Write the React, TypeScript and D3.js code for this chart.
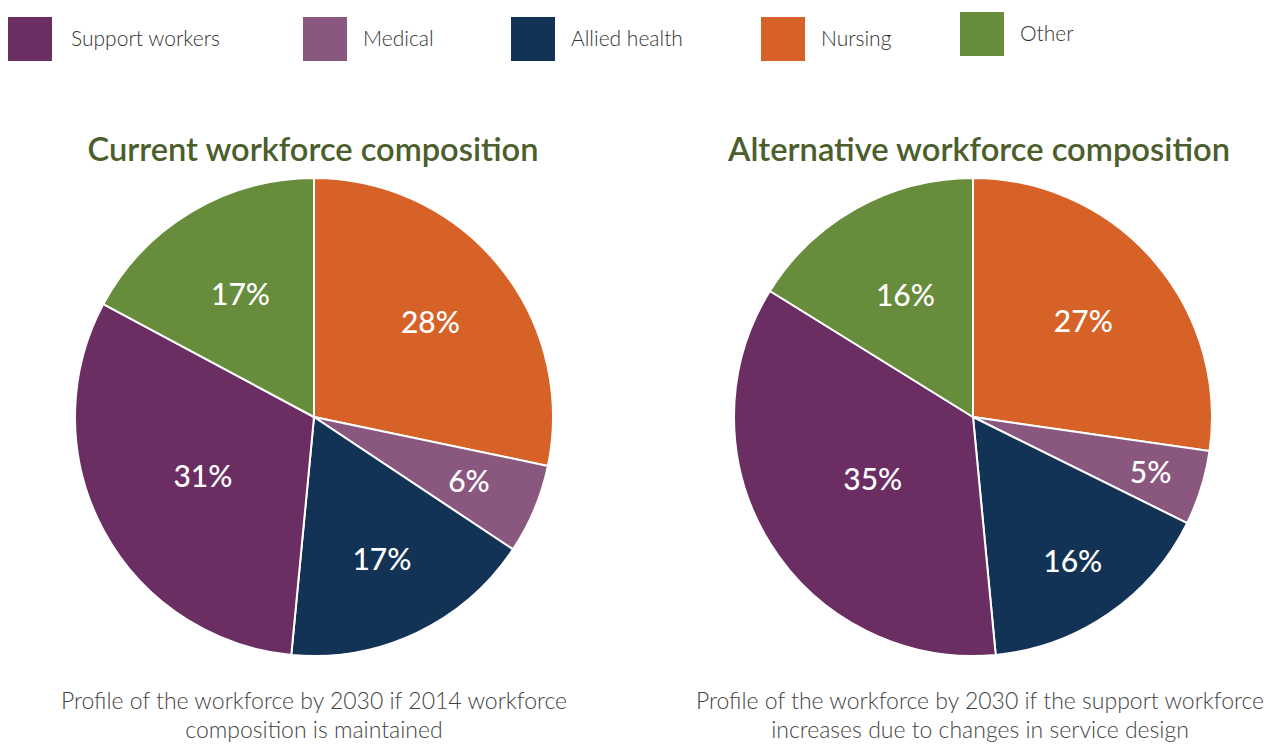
import { useRef, useEffect } from 'react'
import * as d3 from 'd3'

const CATEGORIES = ['Nursing', 'Medical', 'Allied health', 'Support workers', 'Other']
const CURRENT = [28, 6, 17, 31, 17]
const ALTERNATIVE = [27, 5, 16, 35, 16]
const LEGEND_ORDER = ['Support workers', 'Medical', 'Allied health', 'Nursing', 'Other']
const TITLES = ['Current workforce composition', 'Alternative workforce composition']
const CAPTIONS = [
  ['Profile of the workforce by 2030 if 2014 workforce', 'composition is maintained'],
  ['Profile of the workforce by 2030 if the support workforce', 'increases due to changes in service design'],
]

const COLORS: Record<string, string> = {
  'Support workers': '#6a2e63',
  Medical: '#8a587f',
  'Allied health': '#133356',
  Nursing: '#d66228',
  Other: '#678c3b',
}

const WIDTH = 1266
const HEIGHT = 744
const RADIUS = 239
const FONT = 'Lato, "Open Sans", sans-serif'

// label distance from centre, per slice, tuned by eye
const LABEL_R = [
  [150, 168, 158, 126, 143],
  [146, 186, 176, 118, 139],
]

export default function App() {
  const svgRef = useRef<SVGSVGElement>(null)

  useEffect(() => {
    if (!svgRef.current) return
    const svg = d3.select(svgRef.current)
    svg.selectAll('*').remove()

    // legend, positions follow the original layout
    const legendPos: Record<string, [number, number]> = {
      'Support workers': [8, 17],
      Medical: [303, 17],
      'Allied health': [511, 17],
      Nursing: [761, 17],
      Other: [960, 12],
    }
    const lg = svg.append('g')
    LEGEND_ORDER.forEach((name) => {
      const [x, y] = legendPos[name]
      lg.append('rect')
        .attr('x', x)
        .attr('y', y)
        .attr('width', 44)
        .attr('height', 44)
        .attr('fill', COLORS[name])
      lg.append('text')
        .attr('x', x + (name === 'Support workers' ? 63 : 60))
        .attr('y', y + 29)
        .attr('font-family', FONT)
        .attr('font-weight', 300)
        .attr('font-size', 21)
        .attr('fill', '#333')
        .text(name)
    })

    const pie = d3
      .pie<number>()
      .sort(null)
      .value((d) => d)
    const arc = d3.arc<d3.PieArcDatum<number>>().innerRadius(0).outerRadius(RADIUS)

    const centers = [314, 973]
    const titleX = [313, 979]
    const titleW = [451, 502]
    ;[CURRENT, ALTERNATIVE].forEach((values, ci) => {
      const cx = centers[ci]
      const cy = 417

      svg.append('text')
        .attr('x', titleX[ci])
        .attr('y', 161)
        .attr('text-anchor', 'middle')
        .attr('font-family', FONT)
        .attr('font-weight', 600)
        .attr('font-size', 33)
        .attr('textLength', titleW[ci])
        .attr('lengthAdjust', 'spacingAndGlyphs')
        .attr('fill', '#4b5e2c')
        .text(TITLES[ci])

      const g = svg.append('g').attr('transform', `translate(${cx},${cy})`)
      const arcs = pie(values)

      g.selectAll('path')
        .data(arcs)
        .enter()
        .append('path')
        .attr('d', arc)
        .attr('fill', (_, i) => COLORS[CATEGORIES[i]])
        .attr('stroke', '#fff')
        .attr('stroke-width', 2)

      g.selectAll('text.lbl')
        .data(arcs)
        .enter()
        .append('text')
        .attr('class', 'lbl')
        .attr('transform', (d, i) => {
          const r = LABEL_R[ci][i]
          const c = d3.arc<d3.PieArcDatum<number>>().innerRadius(r).outerRadius(r).centroid(d)
          return `translate(${c[0]},${c[1]})`
        })
        .attr('text-anchor', 'middle')
        .attr('dy', '0.35em')
        .attr('font-family', FONT)
        .attr('font-weight', 500)
        .attr('font-size', 30)
        .attr('fill', '#fff')
        .text((d) => `${d.data}%`)

      CAPTIONS[ci].forEach((line, li) => {
        svg.append('text')
          .attr('x', cx + (ci === 1 ? 7 : 0))
          .attr('y', 709 + li * 29)
          .attr('text-anchor', 'middle')
          .attr('font-family', FONT)
          .attr('font-weight', 300)
          .attr('font-size', 23)
          .attr('fill', '#444')
          .text(line)
      })
    })
  }, [])

  return (
    <svg
      ref={svgRef}
      width={WIDTH}
      height={HEIGHT}
      style={{ position: 'absolute', left: 0, top: 0, background: '#fff' }}
    />
  )
}
